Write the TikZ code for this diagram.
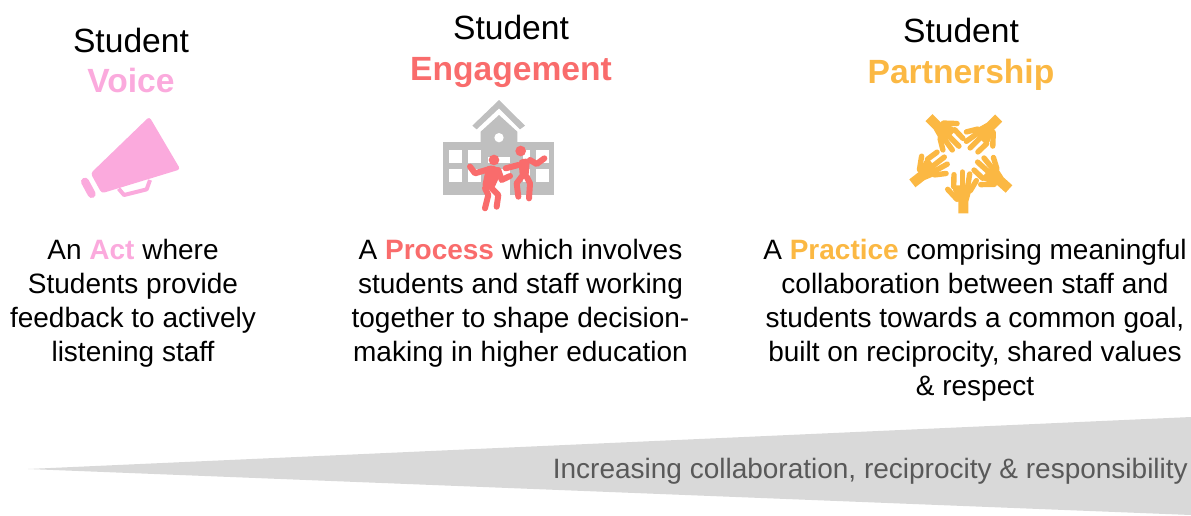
\documentclass[tikz,border=0pt]{standalone}
\usepackage{fontspec}
\setmainfont{Liberation Sans}
\definecolor{pinkc}{HTML}{FBAADD}
\definecolor{coral}{HTML}{F96C6C}
\definecolor{amber}{HTML}{FBB843}
\definecolor{icongrey}{HTML}{BFBFBF}
\definecolor{wedgegrey}{HTML}{D9D9D9}
\definecolor{wedgetext}{HTML}{595959}
\newcommand{\pkw}[1]{\textcolor{pinkc}{\textbf{#1}}}
\newcommand{\crw}[1]{\textcolor{coral}{\textbf{#1}}}
\newcommand{\amw}[1]{\textcolor{amber}{\textbf{#1}}}
\tikzset{
  titlestyle/.style={anchor=north,inner sep=0pt,align=center,font=\fontsize{33.6}{40.5}\selectfont},
  bodystyle/.style={anchor=north,inner sep=0pt,align=center,font=\fontsize{28}{34}\selectfont},
  limb/.style={line width=6pt,line cap=round,line join=round,draw=coral},
  finger/.style={line width=5.4pt,line cap=round,line join=round,draw=amber},
}
\newcommand{\hand}[3]{%
  \begin{scope}[shift={(895,105)},scale=1/3,shift={(#1,#2)},rotate=#3,shift={(-7,-160)}]
    \fill[amber] (-8,160) -- (22,160) -- (22,125) -- (33,85) -- (33,76) -- (-24,76) -- (-24,90) -- (-8,125) -- cycle;
    \draw[finger] (-22,80) -- (-21,44);
    \draw[finger] (4,80) -- (4,36);
    \draw[finger] (20,80) -- (26,42);
    \draw[finger] (28,92) -- (46,62);
    \draw[finger] (-12,118) -- (-40,88);
  \end{scope}}
\begin{document}
\begin{tikzpicture}[x=1pt,y=-1pt]
\useasboundingbox (0,0) rectangle (1191,515);
% wedge
\fill[wedgegrey] (28,469) -- (1191,417) -- (1191,515) -- cycle;
\node[anchor=base east,inner sep=0pt,text=wedgetext,font=\fontsize{28}{32}\selectfont] (scale) at (1188,478) {Increasing collaboration, reciprocity \& responsibility};
% titles
\node[titlestyle] (t1) at (131,27.5) {Student\\\pkw{Voice}};
\node[titlestyle] (t2) at (511,15) {Student\\\crw{Engagement}};
\node[titlestyle] (t3) at (961,18) {Student\\\amw{Partnership}};
% bodies
\node[bodystyle] (b1) at (133,239) {An \pkw{Act} where\\Students provide\\feedback to actively\\listening staff};
\node[bodystyle] (b2) at (520.5,239) {A \crw{Process} which involves\\students and staff working\\together to shape decision-\\making in higher education};
\node[bodystyle] (b3) at (975,239) {A \amw{Practice} comprising meaningful\\collaboration between staff and\\students towards a common goal,\\built on reciprocity, shared values\\\& respect};
% megaphone
\begin{scope}[shift={(60,100)},scale=1/3]
  \fill[pinkc,rounded corners=3pt] (268,50) -- (361,208) -- (125,280) -- (92,220) -- cycle;
  \draw[pinkc,line width=4pt,line join=round] (176,266) -- (192,285) -- (260,268) -- (270,240);
  \draw[pinkc,line width=8pt,line cap=round] (75,245) -- (95,282);
\end{scope}
% school
\begin{scope}[shift={(430,90)},scale=1/3]
  \fill[icongrey] (127,107) -- (207,30) -- (285,107) -- (270,118) -- (207,55) -- (140,118) -- cycle;
  \fill[icongrey] (152,158) -- (152,125) -- (207,75) -- (262,125) -- (262,158) -- cycle;
  \fill[icongrey] (40,157) rectangle (373,315);
  \fill[white] (207,143) circle (14);
  \foreach \xa/\xb in {58/97,115/153,280/300,318/357}{
    \fill[white] (\xa,180) rectangle (\xb,218);
    \fill[white] (\xa,237) rectangle (\xb,275);
  }
  \fill[white] (175,200) rectangle (240,218);
  \fill[white] (175,237) rectangle (240,316);
  % left person
  \fill[coral] (192,210) circle (16);
  \fill[coral,rounded corners=4pt] (170,225) -- (205,230) -- (213,250) -- (190,300) -- (155,295) -- cycle;
  \draw[limb] (175,238) -- (135,250) -- (120,230);
  \draw[limb] (205,240) -- (215,270) -- (240,258);
  \draw[limb] (165,295) -- (175,315) -- (165,355);
  \draw[limb] (185,295) -- (205,315) -- (200,350);
  % right person
  \fill[coral] (272,183) circle (16);
  \fill[coral,rounded corners=4pt] (265,208) -- (300,205) -- (295,265) -- (270,265) -- cycle;
  \draw[limb] (265,225) -- (227,235);
  \draw[limb] (300,210) -- (320,222) -- (343,205);
  \draw[limb] (275,260) -- (260,280) -- (265,320);
  \draw[limb] (290,260) -- (300,280) -- (297,325);
\end{scope}
% hands
\hand{205}{325}{0}
\hand{342}{252}{48}
\hand{311}{39}{135}
\hand{102}{38}{225}
\hand{52}{235}{308}
\end{tikzpicture}
\end{document}
